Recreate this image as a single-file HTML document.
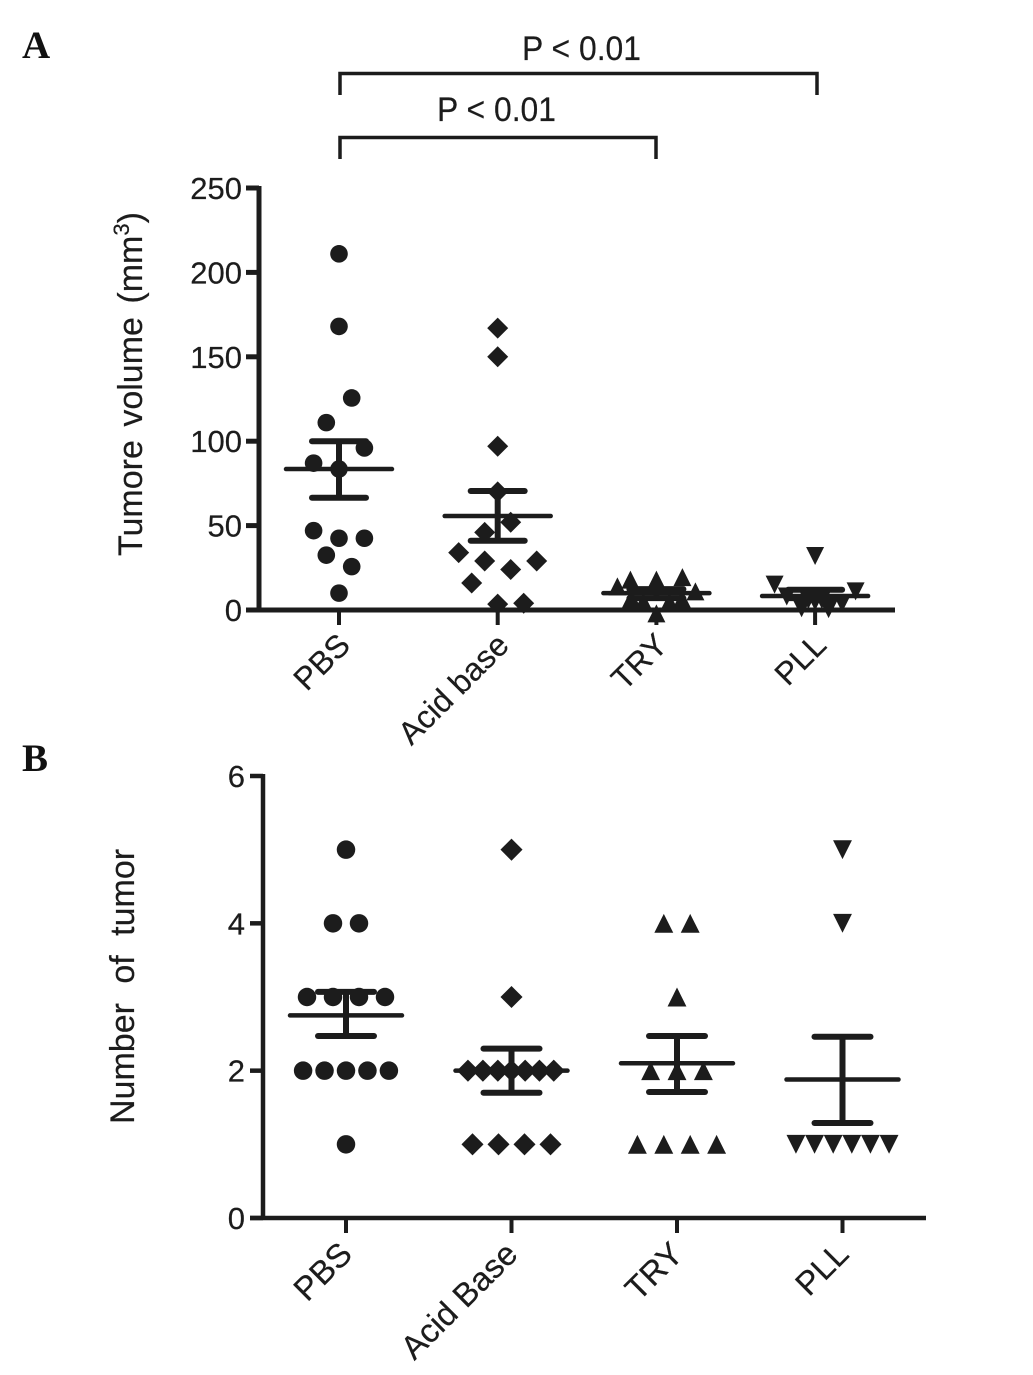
<!DOCTYPE html>
<html lang="en">
<head>
<meta charset="utf-8">
<title>Tumor volume and number of tumors</title>
<style>
html,body{margin:0;padding:0;background:#fff;}
svg{display:block;}
text{font-family:"Liberation Sans",Arial,sans-serif;fill:#1c1c1c;stroke:#1c1c1c;stroke-width:0.2px;}
.panel-letter{font-family:"Liberation Serif","Times New Roman",serif;font-weight:bold;font-size:39px;fill:#111;stroke:none;}
</style>
</head>
<body>
<svg id="figure" xmlns="http://www.w3.org/2000/svg" width="1033" height="1375" viewBox="0 0 1033 1375">
  <text class="panel-letter" x="22" y="58">A</text>
  <text class="panel-letter" x="22" y="771">B</text>

  <g>
    <path d="M340 95V73.500H817V95" fill="none" stroke="#1c1c1c" stroke-width="3.500"/>
    <text x="522" y="60" font-size="34" textLength="119" lengthAdjust="spacingAndGlyphs">P &lt; 0.01</text>
  </g>
  <g>
    <path d="M340 159V137.500H656V159" fill="none" stroke="#1c1c1c" stroke-width="3.500"/>
    <text x="437" y="121" font-size="34" textLength="119" lengthAdjust="spacingAndGlyphs">P &lt; 0.01</text>
  </g>

  <text transform="translate(142 556) rotate(-90)" font-size="34" word-spacing="4">Tumore volume (mm<tspan dy="-13" font-size="22">3</tspan><tspan dy="13">)</tspan></text>
  <text transform="translate(134 1124) rotate(-90)" font-size="34" word-spacing="10">Number of tumor</text>

  <g id="panel-a"></g>
  <g id="panel-b"></g>
</svg>

<script>
// ---------- Panel A data: tumor volume (mm3) ----------
const volumeCategories = ["PBS", "Acid base", "TRY", "PLL"];
const volumeTicks = [0, 50, 100, 150, 200, 250];
const volumePbs = [211, 168, 125.6, 111, 96, 87, 83.5, 47, 42.5, 42.5, 32.5, 25.7, 10];
const volumeAcid = [167, 150, 97, 70, 52, 46, 34, 29, 29, 24, 16, 3.5, 4];
const volumeTry = [18, 18, 19.5, 14, 11, 6, 6, 5, 5, 5, 4, -2];
const volumePll = [32, 15, 11, 8, 1, 0.5, 4, 6, 6, 5];
const volumeMeans = [83.5, 55.7, 10, 8.3];
const volumeUpper = [100, 70.5, 12.4, 12];
const volumeLower = [66.5, 41, 7, 7];
// Swarm slots: sideways displacement of each point, in marker units
const volumePbsSlots = [0, 0, 1, -1, 2, -2, 0, -2, 0, 2, -1, 1, 0];
const volumeAcidSlots = [0, 0, 0, 0, 1, -1, -3, -1, 3, 1, -2, 0, 2];
const volumeTrySlots = [-2, 0, 2, -3, 3, -2, 2, -1, 1, -1.800, 1.800, 0];
const volumePllSlots = [0, -3, 3, -2.100, -1, 1, 2, -0.500, 0.500, 0];

// ---------- Panel B data: number of tumors ----------
const countCategories = ["PBS", "Acid Base", "TRY", "PLL"];
const countTicks = [0, 2, 4, 6];
const countPbs = [5, 4, 4, 3, 3, 3, 3, 2, 2, 2, 2, 2, 1];
const countAcid = [5, 3, 2, 2, 2, 2, 2, 2, 2, 1, 1, 1, 1];
const countTry = [4, 4, 3, 2, 2, 2, 1, 1, 1, 1];
const countPll = [5, 4, 1, 1, 1, 1, 1, 1];
const countMeans = [2.75, 2, 2.1, 1.88];
const countUpper = [3.07, 2.3, 2.47, 2.46];
const countLower = [2.47, 1.7, 1.71, 1.29];
const countPbsSlots = [0, -1, 1, -3, -1, 1, 3, -3.300, -1.650, 0, 1.650, 3.300, 0];
const countAcidSlots = [0, 0, -3.350, -2.200, -1.050, 0, 1.050, 2.150, 3.250, -3, -1, 1, 3];
const countTrySlots = [-1, 1, 0, -2, 0, 2, -3, -1, 1, 3];
const countPllSlots = [0, 0, -3.500, -2.100, -0.700, 0.700, 2.100, 3.500];

const NS = "http://www.w3.org/2000/svg";
const INK = "#1c1c1c";

function make(parent, tag, attrs) {
  const el = document.createElementNS(NS, tag);
  for (const k in attrs) el.setAttribute(k, attrs[k]);
  parent.appendChild(el);
  return el;
}

function drawMarker(group, shape, cx, cy, size) {
  let el;
  if (shape === "circle") {
    el = make(group, "circle", {cx: cx, cy: cy, r: size * 0.88, fill: INK});
  } else if (shape === "diamond") {
    const d = size * 1.05;
    el = make(group, "polygon", {points: [cx, cy - d, cx + d, cy, cx, cy + d, cx - d, cy].join(" "), fill: INK});
  } else if (shape === "up") {
    const h = size * 0.9;
    el = make(group, "polygon", {points: [cx, cy - h, cx + h, cy + h, cx - h, cy + h].join(" "), fill: INK});
  } else {
    const h = size * 0.9;
    el = make(group, "polygon", {points: [cx - h, cy - h, cx + h, cy - h, cx, cy + h].join(" "), fill: INK});
  }
  return el;
}

function drawPanel(root, cfg) {
  const yScale = v => cfg.y0 - (v - cfg.ymin) / (cfg.ymax - cfg.ymin) * (cfg.y0 - cfg.y1);
  const xScale = i => cfg.xFirst + i * cfg.xStep;

  // Axes
  const yAxis = make(root, "line", {x1: cfg.axisX, x2: cfg.axisX, y1: cfg.y1 - 2, y2: cfg.y0, stroke: INK, "stroke-width": cfg.axisW});
  
  
  const xAxis = make(root, "line", {x1: cfg.axisX - cfg.tickLen, x2: cfg.axisEnd, y1: cfg.y0, y2: cfg.y0, stroke: INK, "stroke-width": cfg.axisW});
  
  

  cfg.ticks.forEach(t => {
    const y = yScale(t);
    const tick = make(root, "line", {x1: cfg.axisX - cfg.tickLen, x2: cfg.axisX, y1: y, y2: y, stroke: INK, "stroke-width": cfg.axisW});
    
    
    const label = make(root, "text", {x: cfg.axisX - cfg.tickLen - cfg.tickGap, y: y + 11, "text-anchor": "end", "font-size": 31});
    
    
    label.textContent = t;
  });

  cfg.categories.forEach((c, i) => {
    const x = xScale(i);
    const tick = make(root, "line", {x1: x, x2: x, y1: cfg.y0, y2: cfg.y0 + 15, stroke: INK, "stroke-width": 4});
    
    
    const lx = x + cfg.labelDx;
    const ly = cfg.y0 + cfg.labelDy;
    const label = make(root, "text", {x: lx, y: ly, "text-anchor": "end", "font-size": cfg.labelSize, transform: "rotate(-45 " + lx + " " + ly + ")"});
    
    
    label.textContent = c;

    // Points
    const group = make(root, "g", {});
    
    
    cfg.values[i].forEach((v, j) => {
      const m = drawMarker(group, cfg.shapes[i], x + cfg.slots[i][j] * cfg.slotW[i], yScale(v), cfg.markerSize);
      
      
    });

    // Mean and SEM
    const err = make(root, "g", {stroke: INK, "stroke-linecap": "round"});
    
    
    const yU = yScale(cfg.upper[i]), yL = yScale(cfg.lower[i]), yM = yScale(cfg.means[i]);
    make(err, "line", {x1: x, x2: x, y1: yU, y2: yL, "stroke-width": 6, "stroke-linecap": "butt"});
    make(err, "line", {x1: x - cfg.capW, x2: x + cfg.capW, y1: yU, y2: yU, "stroke-width": 6});
    make(err, "line", {x1: x - cfg.capW, x2: x + cfg.capW, y1: yL, y2: yL, "stroke-width": 6});
    make(err, "line", {x1: x - cfg.meanW, x2: x + cfg.meanW, y1: yM, y2: yM, "stroke-width": 4.500});
  });
}

drawPanel(document.getElementById("panel-a"), {
  y0: 610, y1: 188, ymin: 0, ymax: 250,
  axisX: 259, axisEnd: 895, axisW: 5, tickLen: 13, tickGap: 4,
  xFirst: 339, xStep: 158.700,
  labelDx: 13, labelDy: 37, labelSize: 32,
  ticks: volumeTicks, categories: volumeCategories,
  values: [volumePbs, volumeAcid, volumeTry, volumePll],
  slots: [volumePbsSlots, volumeAcidSlots, volumeTrySlots, volumePllSlots],
  slotW: [12.700, 13, 13, 13.500],
  shapes: ["circle", "diamond", "up", "down"],
  markerSize: 10,
  means: volumeMeans, upper: volumeUpper, lower: volumeLower,
  capW: 27, meanW: 53
});

drawPanel(document.getElementById("panel-b"), {
  y0: 1218, y1: 776, ymin: 0, ymax: 6,
  axisX: 263, axisEnd: 926, axisW: 4.500, tickLen: 13, tickGap: 5,
  xFirst: 346, xStep: 165.500,
  labelDx: 8, labelDy: 38, labelSize: 33,
  ticks: countTicks, categories: countCategories,
  values: [countPbs, countAcid, countTry, countPll],
  slots: [countPbsSlots, countAcidSlots, countTrySlots, countPllSlots],
  slotW: [13, 13, 13.200, 13.300],
  shapes: ["circle", "diamond", "up", "down"],
  markerSize: 10.500,
  means: countMeans, upper: countUpper, lower: countLower,
  capW: 28, meanW: 56
});
</script>
</body>
</html>
